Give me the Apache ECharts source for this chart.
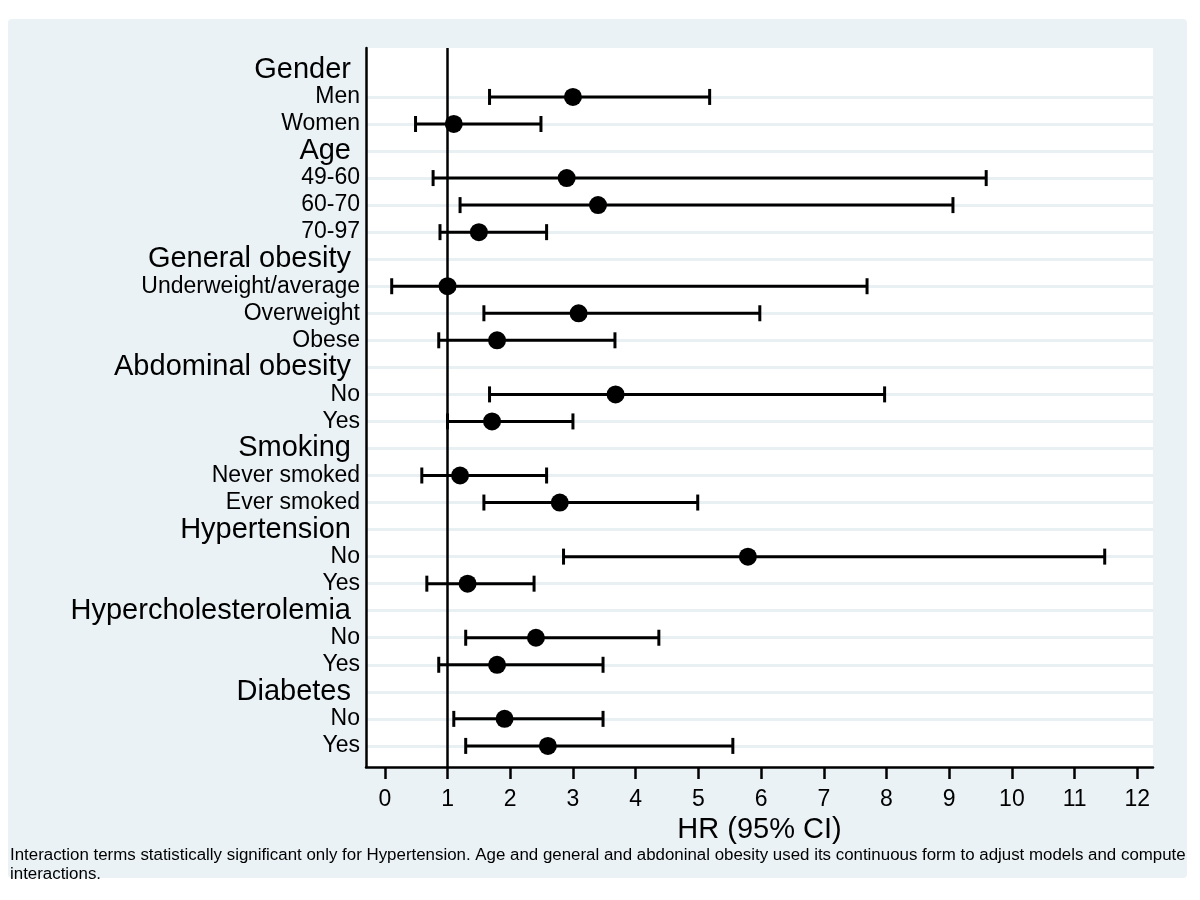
<!DOCTYPE html>
<html>
<head>
<meta charset="utf-8">
<script src="https://cdn.jsdelivr.net/npm/echarts@6/dist/echarts.min.js"></script>
<style>
  html, body { margin: 0; padding: 0; background: #ffffff; }
  #panel { position: absolute; left: 8px; top: 19px; width: 1179px; height: 859px; background: #eaf2f5; border-radius: 4px; }
  #chart { position: absolute; left: 0; top: 0; width: 1200px; height: 900px; }
</style>
</head>
<body>
<div id="panel"></div>
<div id="chart"></div>
<script>
// row labels, top to bottom
const rowLabels = [
  'Gender', 'Men', 'Women',
  'Age', '49-60', '60-70', '70-97',
  'General obesity', 'Underweight/average', 'Overweight', 'Obese',
  'Abdominal obesity', 'No', 'Yes',
  'Smoking', 'Never smoked', 'Ever smoked',
  'Hypertension', 'No', 'Yes',
  'Hypercholesterolemia', 'No', 'Yes',
  'Diabetes', 'No', 'Yes'
]
const headerRows = ['Gender', 'Age', 'General obesity', 'Abdominal obesity', 'Smoking', 'Hypertension', 'Hypercholesterolemia', 'Diabetes']

// hazard ratios and 95% CI (null = group header)
const hr     = [null, 3.00, 1.10, null, 2.90, 3.40, 1.50, null, 1.00, 3.09, 1.79, null, 3.68, 1.71, null, 1.20, 2.79, null, 5.79, 1.32, null, 2.41, 1.79, null, 1.91, 2.60]
const ciLow  = [null, 1.67, 0.49, null, 0.77, 1.20, 0.88, null, 0.11, 1.58, 0.86, null, 1.67, 1.00, null, 0.59, 1.58, null, 2.85, 0.67, null, 1.29, 0.86, null, 1.10, 1.29]
const ciHigh = [null, 5.18, 2.49, null, 9.59, 9.06, 2.58, null, 7.69, 5.98, 3.67, null, 7.97, 3.00, null, 2.58, 4.99, null, 11.48, 2.38, null, 4.37, 3.48, null, 3.48, 5.55]

const xTicks = [0, 1, 2, 3, 4, 5, 6, 7, 8, 9, 10, 11, 12]
const refLine = 1

const footnote = 'Interaction terms statistically significant only for Hypertension. Age and general and abdoninal obesity used its continuous form to adjust models and compute\ninteractions.'

const font = '"Liberation Sans", Arial, sans-serif'
const rowIdx = rowLabels.map((_, i) => i)

// error bars + points
const barData = []
const pointData = []
rowIdx.forEach(i => {
  if (hr[i] == null) return
  barData.push([ciLow[i], ciHigh[i], i])
  pointData.push([hr[i], i])
})

const chart = echarts.init(document.getElementById('chart'), null, { renderer: 'canvas' })

const option = {
  backgroundColor: 'transparent',
  animation: false,
  grid: {
    left: 366, top: 48, right: 47, bottom: 133,
    show: true, backgroundColor: '#ffffff', borderWidth: 0
  },
  xAxis: {
    type: 'value',
    min: -0.3, max: 12.25,
    name: 'HR (95% CI)',
    nameLocation: 'middle',
    nameGap: 42,
    nameTextStyle: { fontSize: 29, color: '#000', fontFamily: font },
    axisLine: { show: true, onZero: false, lineStyle: { color: '#000', width: 2.5 } },
    axisTick: { show: true, length: 12, customValues: xTicks, lineStyle: { color: '#000', width: 2.5 } },
    axisLabel: { customValues: xTicks, margin: 21, fontSize: 23, color: '#000', fontFamily: font },
    splitLine: { show: false }
  },
  yAxis: {
    type: 'value',
    inverse: true,
    min: -0.81, max: 25.78,
    z: 5,
    axisLine: { show: true, onZero: false, lineStyle: { color: '#000', width: 2.5 } },
    axisTick: { show: false },
    splitLine: { show: false },
    axisLabel: {
      customValues: rowIdx,
      margin: 6,
      color: '#000',
      fontFamily: font,
      formatter: v => {
        const lbl = rowLabels[v]
        return headerRows.includes(lbl) ? '{h|' + lbl + '}' : '{s|' + lbl + '}'
      },
      rich: {
        h: { fontSize: 29, fontFamily: font, color: '#000', padding: [0, 9, 0, 0] },
        s: { fontSize: 23, fontFamily: font, color: '#000' }
      }
    }
  },
  graphic: [{
    type: 'text',
    left: 10, top: 846,
    scaleX: 1.055,
    style: { text: footnote, fontSize: 16, lineHeight: 19, fill: '#000', fontFamily: font }
  }],
  series: [
    {
      // row grid lines
      type: 'line',
      data: [],
      silent: true,
      markLine: {
        z: 1,
        silent: true,
        symbol: ['none', 'none'],
        label: { show: false },
        lineStyle: { color: '#e9f0f3', width: 3, type: 'solid' },
        data: rowIdx.slice(1).map(i => ({ yAxis: i }))
      }
    },
    {
      type: 'custom',
      z: 3,
      data: barData,
      renderItem: (params, api) => {
        const row = api.value(2)
        const a = api.coord([api.value(0), row])
        const b = api.coord([api.value(1), row])
        const cap = 8
        const style = { stroke: '#000', lineWidth: 3 }
        return {
          type: 'group',
          children: [
            { type: 'line', shape: { x1: a[0], y1: a[1], x2: b[0], y2: b[1] }, style },
            { type: 'line', shape: { x1: a[0], y1: a[1] - cap, x2: a[0], y2: a[1] + cap }, style },
            { type: 'line', shape: { x1: b[0], y1: b[1] - cap, x2: b[0], y2: b[1] + cap }, style }
          ]
        }
      }
    },
    {
      type: 'scatter',
      z: 4,
      symbol: 'circle',
      symbolSize: 18,
      itemStyle: { color: '#000', opacity: 1 },
      data: pointData,
      markLine: {
        z: 3,
        silent: true,
        symbol: ['none', 'none'],
        label: { show: false },
        lineStyle: { color: '#000', width: 2.5, type: 'solid' },
        data: [{ xAxis: refLine }]
      }
    }
  ]
}

chart.setOption(option)
</script>
</body>
</html>
